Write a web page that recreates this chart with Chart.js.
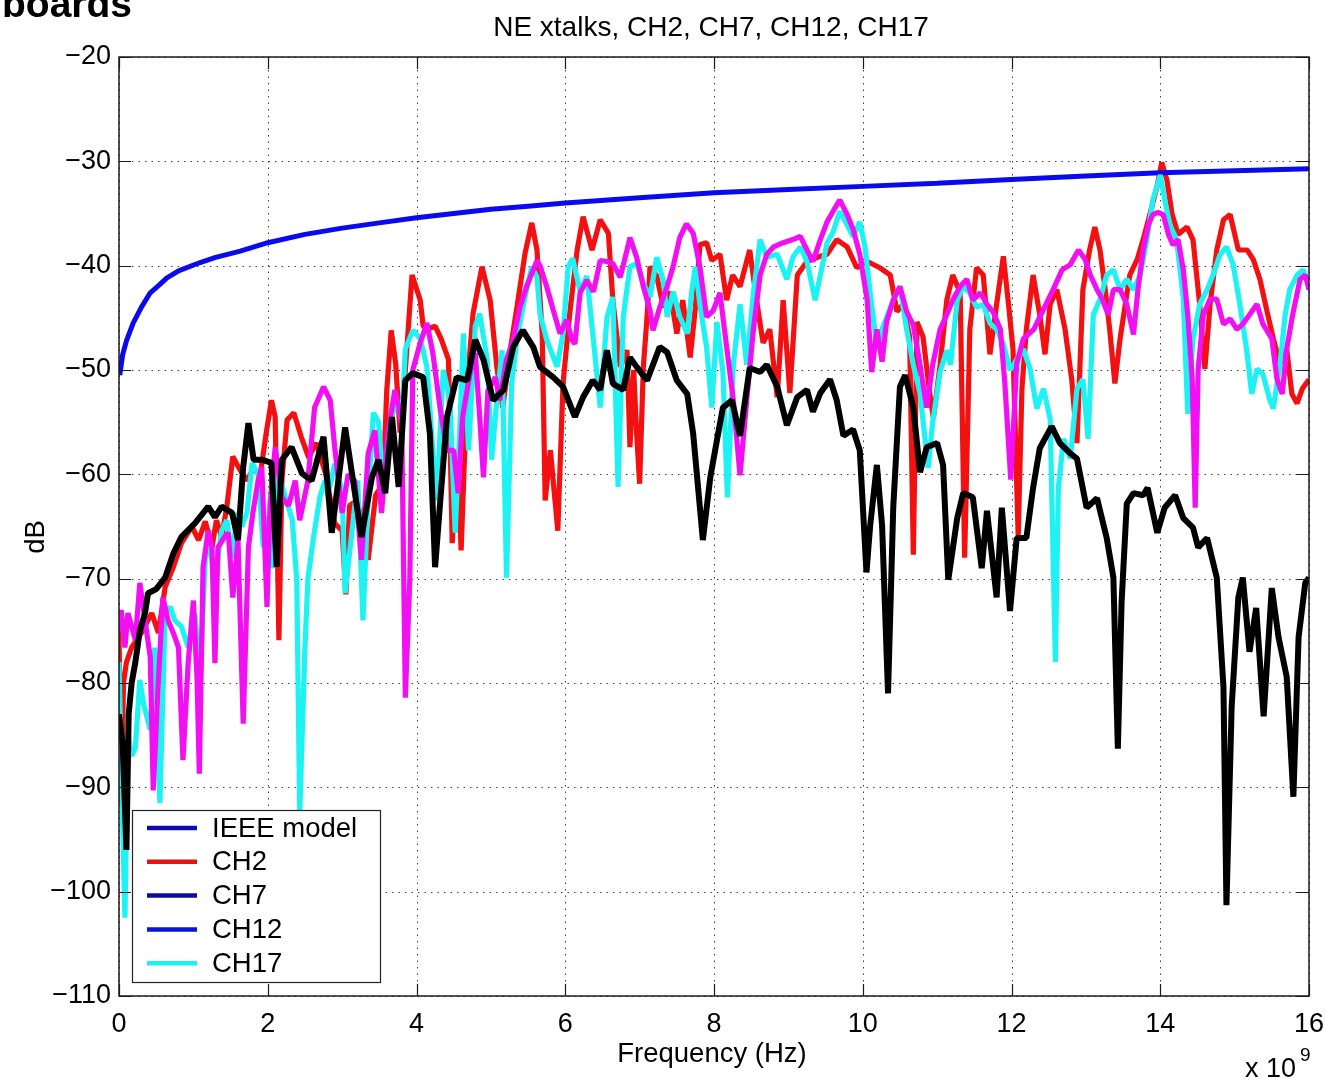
<!DOCTYPE html>
<html>
<head>
<meta charset="utf-8">
<title>NE xtalks, CH2, CH7, CH12, CH17</title>
<script src="https://cdn.jsdelivr.net/npm/chart.js@4/dist/chart.umd.min.js"></script>
<style>
  html, body { margin: 0; padding: 0; background: #fff; overflow: hidden; }
  #wrap { position: relative; width: 1326px; height: 1081px; }
  canvas { display: block; }
</style>
</head>
<body>
<div id="wrap"><canvas id="c" width="1326" height="1081"></canvas></div>
<script>
// Axis ticks (frequency in units of 1e9 Hz, level in dB)
const xTicks = [0, 2, 4, 6, 8, 10, 12, 14, 16];
const yTicks = [-110, -100, -90, -80, -70, -60, -50, -40, -30, -20];

// Legend entries as printed in the figure
const legendLabels = ['IEEE model', 'CH2', 'CH7', 'CH12', 'CH17'];
const legendColors = ['#0c0cb0', '#e01414', '#0c0ca0', '#0814dc', '#1cf0f0'];

// IEEE NEXT limit line [GHz, dB]
const ieeeModel = [
  [0.01,-50.5],[0.05,-48.5],[0.1,-47.2],[0.19,-45.5],[0.3,-44],[0.42,-42.6],[0.55,-41.8],
  [0.64,-41.2],[0.8,-40.5],[1.09,-39.7],[1.3,-39.2],[1.63,-38.6],[2,-37.8],[2.5,-37.0],
  [3,-36.4],[3.5,-35.9],[4,-35.4],[4.5,-35.0],[5,-34.6],[5.5,-34.3],[6,-34.0],[7,-33.5],
  [8,-33.0],[9,-32.7],[10,-32.4],[11,-32.1],[12,-31.75],[13,-31.4],[14,-31.1],[15,-30.9],[16,-30.7]
];

// Measured near-end crosstalk traces [GHz, dB]
const traceRed = [
  [0,-75],[0.03,-91.5],[0.06,-80],[0.1,-78],[0.17,-76.6],[0.3,-75.2],[0.44,-73.3],[0.53,-75.2],
  [0.62,-70.8],[0.73,-68.9],[0.84,-66.6],[0.98,-65],[1.07,-66.3],[1.16,-64.5],[1.25,-67],[1.31,-64.4],
  [1.38,-66],[1.45,-63.1],[1.53,-58.3],[1.62,-59.5],[1.72,-60.6],[1.8,-59.5],[1.9,-60],[1.98,-56],
  [2.05,-52.9],[2.1,-54.5],[2.15,-75.9],[2.19,-60.6],[2.26,-54.8],[2.35,-54.1],[2.45,-56.4],[2.55,-58.4],
  [2.65,-57],[2.78,-60],[2.9,-64.7],[3.0,-65.4],[3.05,-71.5],[3.1,-63],[3.2,-62.5],[3.3,-65.6],
  [3.35,-68.2],[3.45,-62],[3.55,-60.9],[3.6,-52],[3.66,-46.2],[3.72,-49.4],[3.78,-56],[3.85,-50],
  [3.94,-40.9],[4.05,-43.3],[4.09,-45.8],[4.18,-46],[4.25,-45.8],[4.33,-47],[4.43,-49],[4.48,-66.6],
  [4.55,-58],[4.6,-67.3],[4.68,-51.6],[4.76,-44.6],[4.88,-40.1],[4.99,-43.3],[5.08,-49.7],[5.16,-53.6],
  [5.26,-48.1],[5.35,-44],[5.46,-38.8],[5.55,-35.9],[5.62,-38.5],[5.69,-46.5],[5.73,-62.5],[5.8,-57.7],
  [5.9,-65.4],[5.97,-51.3],[6.06,-44.6],[6.16,-38.5],[6.24,-35.3],[6.36,-38.5],[6.47,-35.6],[6.58,-36.9],
  [6.64,-43.3],[6.74,-49.7],[6.83,-48.1],[6.87,-57.4],[6.92,-50],[6.96,-56.1],[7.0,-60.9],[7.05,-49.7],
  [7.1,-44.9],[7.14,-40.1],[7.23,-41],[7.32,-44],[7.41,-42.5],[7.5,-46.5],[7.58,-43.3],[7.68,-48.8],
  [7.75,-44],[7.81,-38],[7.9,-37.8],[7.97,-39.5],[8.08,-38.9],[8.17,-43.3],[8.25,-40.9],[8.35,-42],
  [8.48,-38.5],[8.58,-43.7],[8.66,-47.4],[8.75,-46.1],[8.85,-52.6],[8.93,-43.3],[9.02,-52.2],[9.12,-40.9],
  [9.25,-39.6],[9.39,-39.2],[9.52,-38.9],[9.65,-37.5],[9.79,-38.2],[9.92,-40.2],[10.06,-39.6],[10.23,-40.2],
  [10.37,-40.9],[10.46,-44.4],[10.54,-43.7],[10.63,-46.8],[10.68,-67.7],[10.73,-45.4],[10.81,-46.8],[10.9,-52.2],
  [10.95,-54.6],[11.04,-49.5],[11.13,-43.3],[11.21,-40.9],[11.31,-42.6],[11.37,-68],[11.44,-46.1],[11.53,-40.2],
  [11.62,-40.9],[11.71,-48.5],[11.8,-43.7],[11.89,-39.1],[11.96,-43.7],[12.02,-48],[12.09,-66],[12.14,-51.8],
  [12.2,-46.1],[12.29,-40.9],[12.38,-44.7],[12.45,-48.5],[12.52,-43.7],[12.61,-42.3],[12.72,-46.1],[12.81,-50.9],
  [12.88,-57],[12.96,-42.3],[13.05,-38.5],[13.12,-36.3],[13.19,-38.5],[13.26,-42.3],[13.32,-46.1],[13.39,-51.3],
  [13.46,-47],[13.53,-43.7],[13.59,-40.9],[13.69,-39.4],[13.77,-37.5],[13.86,-35.1],[13.96,-32.3],[14.02,-30.1],
  [14.09,-31.8],[14.16,-35.1],[14.24,-37],[14.36,-36.3],[14.44,-37.5],[14.53,-43.7],[14.6,-49.9],[14.67,-43.7],
  [14.76,-38.5],[14.85,-35.6],[14.94,-35.1],[15.05,-38.5],[15.17,-38.5],[15.25,-39.4],[15.34,-41.3],[15.43,-44.2],
  [15.52,-47],[15.61,-49.4],[15.7,-48],[15.77,-52.3],[15.84,-53.2],[15.91,-51.8],[16,-50.9]
];

const traceCyan = [
  [0,-78],[0.03,-88],[0.08,-102.5],[0.12,-85],[0.17,-87],[0.22,-86.2],[0.28,-79.7],[0.33,-82],
  [0.42,-84.5],[0.48,-76.6],[0.55,-91.5],[0.62,-73.3],[0.69,-72.7],[0.75,-74],[0.84,-74.6],[0.93,-76.6],
  [1.02,-73.3],[1.09,-79.7],[1.16,-67.9],[1.22,-67],[1.29,-70.1],[1.38,-65.4],[1.45,-64.4],[1.52,-68],
  [1.59,-63.7],[1.65,-65],[1.72,-63.7],[1.79,-58.9],[1.87,-60],[1.94,-67],[2.0,-64],[2.07,-69],
  [2.14,-59.9],[2.23,-62],[2.33,-64.4],[2.39,-70.1],[2.43,-92.5],[2.5,-76.6],[2.54,-70],[2.61,-66.3],
  [2.7,-62.2],[2.77,-60.6],[2.81,-62],[2.9,-59],[3.0,-61.5],[3.04,-71.4],[3.13,-65.6],[3.21,-60.6],
  [3.28,-74],[3.35,-62.2],[3.42,-54.1],[3.49,-55],[3.55,-60.6],[3.62,-57.4],[3.68,-54.1],[3.75,-52.9],
  [3.8,-55],[3.85,-48],[3.95,-46.2],[4.05,-47],[4.14,-49.7],[4.22,-57.7],[4.27,-62.5],[4.36,-50],
  [4.45,-52.9],[4.52,-65.6],[4.58,-56],[4.63,-46.5],[4.7,-57.7],[4.79,-45.8],[4.85,-44.6],[4.95,-49],
  [5.01,-58.6],[5.08,-52.9],[5.15,-48.1],[5.21,-69.9],[5.28,-51.3],[5.36,-46.5],[5.46,-43],[5.55,-40.1],
  [5.62,-41.1],[5.66,-44.6],[5.75,-47.1],[5.89,-49.7],[5.97,-46.5],[6.04,-40.1],[6.1,-39.3],[6.2,-42.5],
  [6.29,-41],[6.37,-46.5],[6.47,-53.6],[6.56,-45],[6.64,-43],[6.71,-61.2],[6.78,-44.9],[6.87,-40.1],
  [6.96,-39.8],[7.05,-41.7],[7.14,-43],[7.23,-39.2],[7.32,-41.5],[7.37,-44.9],[7.45,-42.5],[7.54,-44.9],
  [7.64,-46.5],[7.7,-42.5],[7.75,-40.1],[7.81,-43.7],[7.9,-47.8],[7.97,-53.6],[8.04,-45.4],[8.12,-50.2],
  [8.18,-62.2],[8.26,-49.5],[8.35,-43.7],[8.44,-49.5],[8.53,-42.6],[8.62,-37.5],[8.71,-39.2],[8.85,-38.9],
  [8.98,-41.3],[9.06,-39.2],[9.16,-38.2],[9.25,-39.6],[9.36,-43.3],[9.43,-40.9],[9.52,-37.8],[9.6,-36.8],
  [9.69,-34.8],[9.79,-36.1],[9.87,-37.2],[9.96,-35.8],[10.03,-38.2],[10.1,-42.6],[10.19,-47.8],[10.26,-46.1],
  [10.32,-45],[10.41,-43.3],[10.5,-42],[10.59,-46.1],[10.68,-49.5],[10.77,-52.2],[10.88,-59.4],[10.94,-55],
  [11.04,-50.2],[11.13,-48.1],[11.18,-49.5],[11.27,-43.3],[11.35,-42],[11.44,-42.6],[11.53,-44],[11.62,-43.7],
  [11.71,-45.5],[11.8,-46.1],[11.89,-47.5],[11.98,-50],[12.07,-49],[12.16,-48],[12.25,-49.9],[12.34,-53.7],
  [12.43,-51.8],[12.52,-54.7],[12.59,-78],[12.63,-61.3],[12.7,-56.6],[12.79,-58.5],[12.88,-51.8],[12.96,-50.9],
  [13.03,-56.6],[13.1,-44.7],[13.19,-43.2],[13.28,-40.9],[13.37,-40.4],[13.46,-42.3],[13.55,-41.3],[13.64,-42.3],
  [13.73,-40.9],[13.82,-37.5],[13.9,-33.7],[14.0,-31.3],[14.06,-33.7],[14.13,-36.1],[14.22,-37.5],[14.31,-43.2],
  [14.37,-54.2],[14.44,-47],[14.53,-43.7],[14.63,-42.3],[14.71,-40.9],[14.8,-39],[14.89,-38.2],[14.98,-39.9],
  [15.07,-43.7],[15.16,-48],[15.23,-52.3],[15.3,-49.9],[15.38,-50.4],[15.47,-52.8],[15.52,-53.7],[15.61,-49.4],
  [15.68,-44.7],[15.74,-42.3],[15.84,-40.9],[15.92,-40.4],[16,-41.8]
];

const traceMagenta = [
  [0,-75],[0.03,-73],[0.08,-76.6],[0.12,-73.3],[0.22,-75.9],[0.28,-70.4],[0.35,-74],[0.42,-77.5],
  [0.46,-90.3],[0.53,-79.7],[0.59,-71.8],[0.66,-74],[0.73,-75.2],[0.8,-76.6],[0.86,-87.4],[0.93,-78.1],
  [1.0,-72.1],[1.05,-79.7],[1.08,-88.7],[1.13,-68.9],[1.2,-65.4],[1.25,-67],[1.29,-78.1],[1.33,-67],
  [1.42,-66],[1.47,-65.6],[1.53,-71.8],[1.6,-66.3],[1.67,-83.9],[1.74,-67],[1.8,-63.7],[1.87,-60.6],
  [1.92,-59.3],[1.99,-72.7],[2.03,-63],[2.1,-57.4],[2.19,-62.2],[2.28,-63],[2.37,-60.6],[2.43,-64.4],
  [2.54,-60.6],[2.63,-53.6],[2.75,-51.6],[2.84,-52.9],[2.9,-57.4],[3.0,-63.7],[3.08,-60],[3.17,-60.6],
  [3.26,-68.2],[3.35,-58],[3.44,-55.8],[3.53,-63.7],[3.62,-55.8],[3.71,-51.9],[3.8,-54.8],[3.85,-81.4],
  [3.91,-70.1],[3.95,-50],[4.05,-47.4],[4.14,-45.5],[4.22,-48.4],[4.32,-53.8],[4.41,-57.7],[4.5,-57.7],
  [4.56,-61.8],[4.62,-54.5],[4.72,-50.3],[4.79,-48.4],[4.85,-54.5],[4.9,-60.3],[4.96,-52],[5.06,-50.7],
  [5.12,-52.9],[5.21,-49],[5.3,-47.1],[5.39,-44],[5.48,-42],[5.57,-40.4],[5.62,-39.5],[5.66,-40],
  [5.75,-42],[5.84,-44.3],[5.93,-46.5],[6.02,-45.2],[6.09,-47.1],[6.13,-47.5],[6.2,-42.6],[6.29,-41.4],
  [6.38,-42.5],[6.47,-39.5],[6.56,-39.6],[6.64,-39.8],[6.74,-41.1],[6.83,-38.5],[6.87,-37.3],[6.96,-39.2],
  [7.05,-42],[7.14,-44.3],[7.18,-46.2],[7.27,-44],[7.37,-42],[7.45,-40.1],[7.54,-37.3],[7.63,-36],
  [7.72,-36.9],[7.81,-40.1],[7.9,-44.9],[7.99,-44.3],[8.08,-42.6],[8.17,-47.8],[8.26,-52.9],[8.35,-60.1],
  [8.44,-52.9],[8.53,-46.1],[8.62,-40.9],[8.71,-38.9],[8.8,-38.2],[8.93,-37.8],[9.06,-37.5],[9.16,-37.2],
  [9.25,-38.5],[9.33,-39.6],[9.43,-37.5],[9.52,-35.8],[9.6,-34.8],[9.69,-33.7],[9.79,-35.1],[9.87,-36.5],
  [9.96,-38.9],[10.06,-43.3],[10.12,-50.2],[10.19,-46.1],[10.26,-49.2],[10.32,-45.4],[10.41,-43.3],[10.5,-42],
  [10.59,-44.4],[10.68,-45.7],[10.77,-49.5],[10.86,-53.6],[10.94,-49.5],[11.04,-46.1],[11.13,-44.7],[11.21,-43.3],
  [11.31,-42],[11.4,-41.3],[11.48,-43.3],[11.58,-42.6],[11.67,-43.7],[11.75,-44.4],[11.85,-46.1],[11.91,-51.2],
  [11.99,-60.5],[12.07,-49.4],[12.16,-47],[12.3,-46.1],[12.43,-44.2],[12.56,-42.3],[12.68,-40.4],[12.79,-39.9],
  [12.9,-38.5],[12.99,-39.4],[13.06,-40.9],[13.15,-42.3],[13.22,-43.2],[13.3,-44.7],[13.37,-42.3],[13.46,-42.3],
  [13.55,-43.7],[13.64,-46.6],[13.7,-42.3],[13.77,-38.5],[13.84,-36.1],[13.9,-35.1],[13.97,-34.9],[14.04,-35.1],
  [14.11,-37],[14.17,-38],[14.24,-37.5],[14.31,-40.4],[14.37,-44.7],[14.43,-50.9],[14.47,-63.2],[14.51,-49.9],
  [14.58,-44.7],[14.67,-43.2],[14.76,-43.2],[14.85,-45.6],[14.94,-45.1],[15.03,-46.1],[15.11,-45.6],[15.2,-44.7],
  [15.3,-43.7],[15.38,-45.6],[15.5,-47],[15.57,-50.9],[15.64,-52.3],[15.7,-48],[15.78,-44.7],[15.88,-41.3],
  [15.95,-40.9],[16,-42.3]
];

const traceBlack = [
  [0,-83],[0.05,-86],[0.1,-96],[0.13,-83],[0.17,-80],[0.22,-78],[0.28,-75],[0.35,-73.3],
  [0.39,-71.4],[0.5,-71],[0.62,-69.9],[0.73,-67.6],[0.84,-66],[1.02,-64.7],[1.2,-63.1],[1.29,-64.1],
  [1.38,-63.1],[1.52,-63.7],[1.6,-66.3],[1.67,-59.3],[1.74,-55.1],[1.81,-58.6],[1.92,-58.6],[2.05,-58.9],
  [2.12,-68.9],[2.19,-58.6],[2.32,-57.4],[2.46,-59.9],[2.59,-60.6],[2.75,-56.4],[2.86,-65.6],[3.04,-55.5],
  [3.26,-66],[3.4,-60.3],[3.49,-58.6],[3.58,-61.8],[3.67,-54.5],[3.76,-61.2],[3.85,-51],[3.95,-50.3],
  [4.09,-50.7],[4.18,-56.1],[4.25,-68.9],[4.32,-62.5],[4.41,-54.5],[4.54,-50.7],[4.68,-51],[4.79,-47.1],
  [4.9,-49],[5.03,-52.9],[5.17,-51.9],[5.3,-47.8],[5.43,-46.2],[5.57,-47.8],[5.66,-49.7],[5.84,-50.7],
  [5.97,-51.6],[6.13,-54.5],[6.24,-52.6],[6.37,-51],[6.47,-51.9],[6.56,-48.1],[6.64,-51.3],[6.78,-51.9],
  [6.87,-48.8],[6.96,-49.7],[7.1,-51],[7.27,-47.8],[7.37,-48.3],[7.5,-51],[7.64,-52.3],[7.72,-56.1],
  [7.85,-66.3],[7.95,-60.3],[8.04,-56.7],[8.12,-53.6],[8.24,-52.9],[8.35,-56.3],[8.48,-49.8],[8.62,-50.2],
  [8.71,-49.5],[8.85,-51.6],[8.98,-55.3],[9.12,-52.6],[9.25,-51.9],[9.33,-54],[9.43,-52.2],[9.56,-50.9],
  [9.65,-52.9],[9.74,-56.3],[9.87,-55.7],[9.96,-57.7],[10.05,-69.4],[10.1,-64.9],[10.19,-59.1],[10.26,-64.9],
  [10.34,-81],[10.41,-63.2],[10.5,-51.6],[10.57,-50.5],[10.68,-53.6],[10.77,-59.8],[10.86,-57.4],[11.0,-57],
  [11.08,-59.1],[11.15,-70.1],[11.27,-64.2],[11.35,-61.8],[11.48,-62.2],[11.6,-69],[11.67,-63.5],[11.8,-71.8],
  [11.87,-63.2],[11.98,-73.1],[12.07,-66.1],[12.2,-66.1],[12.29,-61.3],[12.38,-57.5],[12.54,-55.4],[12.65,-57],
  [12.79,-58],[12.88,-58.5],[13.01,-63.2],[13.15,-62.3],[13.28,-66.1],[13.37,-69.9],[13.43,-86.3],[13.48,-72.3],
  [13.55,-62.8],[13.64,-61.8],[13.77,-62],[13.83,-61.3],[13.96,-65.6],[14.06,-63.2],[14.2,-62],[14.31,-64.2],
  [14.44,-65.1],[14.51,-67],[14.63,-66.1],[14.76,-69.9],[14.85,-80.4],[14.89,-101.3],[14.96,-82.3],[15.05,-71.8],
  [15.11,-69.9],[15.2,-77],[15.29,-72.8],[15.39,-83.2],[15.5,-70.9],[15.59,-75.6],[15.7,-79.4],[15.79,-90.9],
  [15.86,-75.6],[15.95,-70.4],[16.0,-69.9]
];

const FONT = "'Liberation Sans', Arial, Helvetica, sans-serif";
const toPoints = arr => arr.map(([f, d]) => ({ x: f, y: d }));

function lineSet(label, data, color, width, order) {
  return {
    label, data: toPoints(data), borderColor: color, backgroundColor: color,
    borderWidth: width, pointRadius: 0, tension: 0, fill: false,
    borderJoinStyle: 'bevel', borderCapStyle: 'butt', order
  };
}

// Dotted grid, boxed axes with inward ticks, legend box and annotation text
const matlabAxes = {
  id: 'matlabAxes',
  beforeDatasetsDraw(chart) {
    const { ctx, chartArea: a, scales: { x, y } } = chart;
    ctx.save();
    ctx.strokeStyle = '#404040';
    ctx.lineWidth = 1;
    ctx.setLineDash([1.5, 5]);
    xTicks.forEach(v => {
      const px = Math.round(x.getPixelForValue(v)) + 0.5;
      ctx.beginPath(); ctx.moveTo(px, a.top); ctx.lineTo(px, a.bottom); ctx.stroke();
    });
    yTicks.forEach(v => {
      const py = Math.round(y.getPixelForValue(v)) + 0.5;
      ctx.beginPath(); ctx.moveTo(a.left, py); ctx.lineTo(a.right, py); ctx.stroke();
    });
    ctx.restore();
  },
  afterDraw(chart) {
    const { ctx, chartArea: a, scales: { x, y } } = chart;
    ctx.save();
    // frame
    ctx.strokeStyle = '#1a1a1a';
    ctx.lineWidth = 1.5;
    ctx.setLineDash([]);
    ctx.strokeRect(a.left, a.top, a.right - a.left, a.bottom - a.top);
    // inward tick marks on all four sides
    const tl = 12;
    ctx.lineWidth = 1.2;
    xTicks.forEach(v => {
      const px = Math.round(x.getPixelForValue(v)) + 0.5;
      ctx.beginPath();
      ctx.moveTo(px, a.bottom); ctx.lineTo(px, a.bottom - tl);
      ctx.moveTo(px, a.top); ctx.lineTo(px, a.top + tl);
      ctx.stroke();
    });
    yTicks.forEach(v => {
      const py = Math.round(y.getPixelForValue(v)) + 0.5;
      ctx.beginPath();
      ctx.moveTo(a.left, py); ctx.lineTo(a.left + tl, py);
      ctx.moveTo(a.right, py); ctx.lineTo(a.right - tl, py);
      ctx.stroke();
    });

    // legend box
    const lx = 132, ly = 810, lw = 248, lh = 172;
    ctx.fillStyle = '#fff';
    ctx.fillRect(lx, ly, lw, lh);
    ctx.strokeStyle = '#222';
    ctx.lineWidth = 1.2;
    ctx.strokeRect(lx + 0.5, ly + 0.5, lw, lh);
    ctx.font = '27.5px ' + FONT;
    ctx.textBaseline = 'middle';
    ctx.textAlign = 'left';
    legendLabels.forEach((lab, i) => {
      const cy = 828 + i * 33.8;
      ctx.strokeStyle = legendColors[i];
      ctx.lineWidth = 4.5;
      ctx.beginPath(); ctx.moveTo(147, cy); ctx.lineTo(197, cy); ctx.stroke();
      ctx.fillStyle = '#000';
      ctx.fillText(lab, 212, cy + 1);
    });

    // title
    ctx.fillStyle = '#000';
    ctx.textAlign = 'center';
    ctx.font = '28px ' + FONT;
    ctx.fillText('NE xtalks, CH2, CH7, CH12, CH17', 711, 28);
    // x label
    ctx.font = '27.5px ' + FONT;
    ctx.fillText('Frequency (Hz)', 712, 1054);
    // y label
    ctx.save();
    ctx.translate(36, 537);
    ctx.rotate(-Math.PI / 2);
    ctx.fillText('dB', 0, 0);
    ctx.restore();
    // exponent
    ctx.textAlign = 'left';
    ctx.textBaseline = 'alphabetic';
    ctx.font = '27px ' + FONT;
    ctx.fillText('x 10', 1245, 1077);
    ctx.font = '19px ' + FONT;
    ctx.fillText('9', 1300, 1061);
    // slide heading fragment
    ctx.font = 'bold 39px ' + FONT;
    ctx.fillText('boards', 2, 17);
    ctx.restore();
  }
};

new Chart(document.getElementById('c'), {
  type: 'line',
  data: {
    datasets: [
      lineSet('IEEE model', ieeeModel, '#0a0aee', 5, 4),
      lineSet('CH2', traceRed, '#f21010', 5.2, 5),
      lineSet('CH17', traceCyan, '#1ef2f2', 5.2, 3),
      lineSet('CH12', traceMagenta, '#f210f2', 5.2, 2),
      lineSet('CH7', traceBlack, '#000000', 6, 1)
    ]
  },
  options: {
    responsive: false,
    animation: false,
    devicePixelRatio: 1,
    layout: { padding: { left: 0, right: 17, top: 57, bottom: 0 } },
    plugins: { legend: { display: false }, title: { display: false }, tooltip: { enabled: false } },
    scales: {
      x: {
        type: 'linear', min: 0, max: 16,
        grid: { display: false, drawTicks: false },
        border: { display: false },
        ticks: {
          stepSize: 2, padding: 12, color: '#000', maxRotation: 0, autoSkip: false,
          font: { family: FONT, size: 27 },
          callback: v => String(v)
        },
        afterFit: s => { s.height = 85; s.paddingLeft = 0; s.paddingRight = 0; }
      },
      y: {
        type: 'linear', min: -110, max: -20,
        grid: { display: false, drawTicks: false },
        border: { display: false },
        ticks: {
          stepSize: 10, padding: 8, color: '#000', autoSkip: false,
          font: { family: FONT, size: 27 },
          callback: v => (v < 0 ? '\u2212' + Math.abs(v) : String(v))
        },
        afterFit: s => { s.width = 119; s.paddingTop = 0; s.paddingBottom = 0; }
      }
    }
  },
  plugins: [matlabAxes]
});
</script>
</body>
</html>
